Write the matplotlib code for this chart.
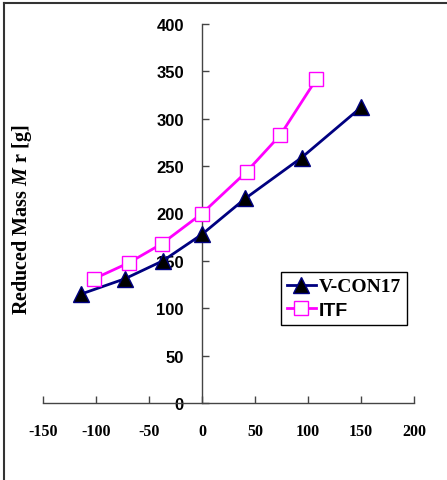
import matplotlib
matplotlib.use("Agg")
import matplotlib.pyplot as plt
from matplotlib.lines import Line2D

# Data
vcon_x = [-114, -73, -37, 0, 41, 94, 150]
vcon_y = [115, 131, 150, 178, 216, 259, 312]
itf_x = [-102, -69, -38, 0, 42, 74, 108]
itf_y = [131, 148, 168, 200, 244, 283, 342]
x_ticks = [-150, -100, -50, 0, 50, 100, 150, 200]
y_ticks = [0, 50, 100, 150, 200, 250, 300, 350, 400]
series_names = ["V-CON17", "ITF"]

plt.rcParams['mathtext.fontset'] = 'custom'
plt.rcParams['mathtext.it'] = 'Liberation Serif:italic:bold'
plt.rcParams['mathtext.rm'] = 'Liberation Serif:bold'
plt.rcParams['axes.unicode_minus'] = False

fig = plt.figure(figsize=(4.47, 4.81), dpi=100)
ax = fig.add_axes([43/447, 1-404/481, (414-43)/447, (404-25)/481])

ax.plot(vcon_x, vcon_y, color='#000080', lw=2.0, marker='^', ms=11.5,
        mfc='black', mec='#000080', mew=1, label=series_names[0], zorder=3)
ax.plot(itf_x, itf_y, color='#FF00FF', lw=2.0, marker='s', ms=10,
        mfc='white', mec='#FF00FF', mew=1, label=series_names[1], zorder=3)

ax.set_xlim(-150, 200)
ax.set_ylim(0, 400)
ax.spines['top'].set_visible(False)
ax.spines['right'].set_visible(False)
ax.spines['left'].set_position(('data', 0))
for s in ('left', 'bottom'):
    ax.spines[s].set_color('#444444')
    ax.spines[s].set_linewidth(1.0)

ax.set_xticks(x_ticks)
ax.set_yticks(y_ticks)
ax.tick_params(axis='both', direction='in', length=5, width=1, color='#444444')
ax.tick_params(axis='x', pad=14.5)
ax.tick_params(axis='y', pad=13)
for lab in ax.get_xticklabels():
    lab.set_fontfamily('Liberation Serif')
    lab.set_fontweight('bold')
    lab.set_fontsize(11.5)
for lab in ax.get_yticklabels():
    lab.set_fontfamily('Liberation Sans')
    lab.set_fontweight('bold')
    lab.set_fontsize(12)

fig.text(22/447, 1-220/481, r"Reduced Mass $\mathit{M}$ r [g]", rotation=90,
         ha='center', va='center', fontfamily='Liberation Serif',
         fontweight='bold', fontsize=14.5)

leg = ax.legend(loc='upper left', bbox_to_anchor=((281-43)/371, 1-(273-25)/379),
                frameon=True, fancybox=False, edgecolor='black', framealpha=1,
                prop={'family': 'Liberation Serif', 'weight': 'bold', 'size': 14},
                handlelength=1.5, handletextpad=0.15, borderpad=0.3,
                labelspacing=0.3, borderaxespad=0)
leg.get_frame().set_linewidth(1.0)
leg.get_texts()[1].set_fontfamily('Liberation Sans')

fig.add_artist(Line2D([4/447, 4/447], [0, 1-4/481], transform=fig.transFigure,
                      color='#333333', lw=1.5))
fig.add_artist(Line2D([4/447, 1], [1-4/481, 1-4/481], transform=fig.transFigure,
                      color='#333333', lw=1.5))

fig.savefig('out.png', dpi=100)
